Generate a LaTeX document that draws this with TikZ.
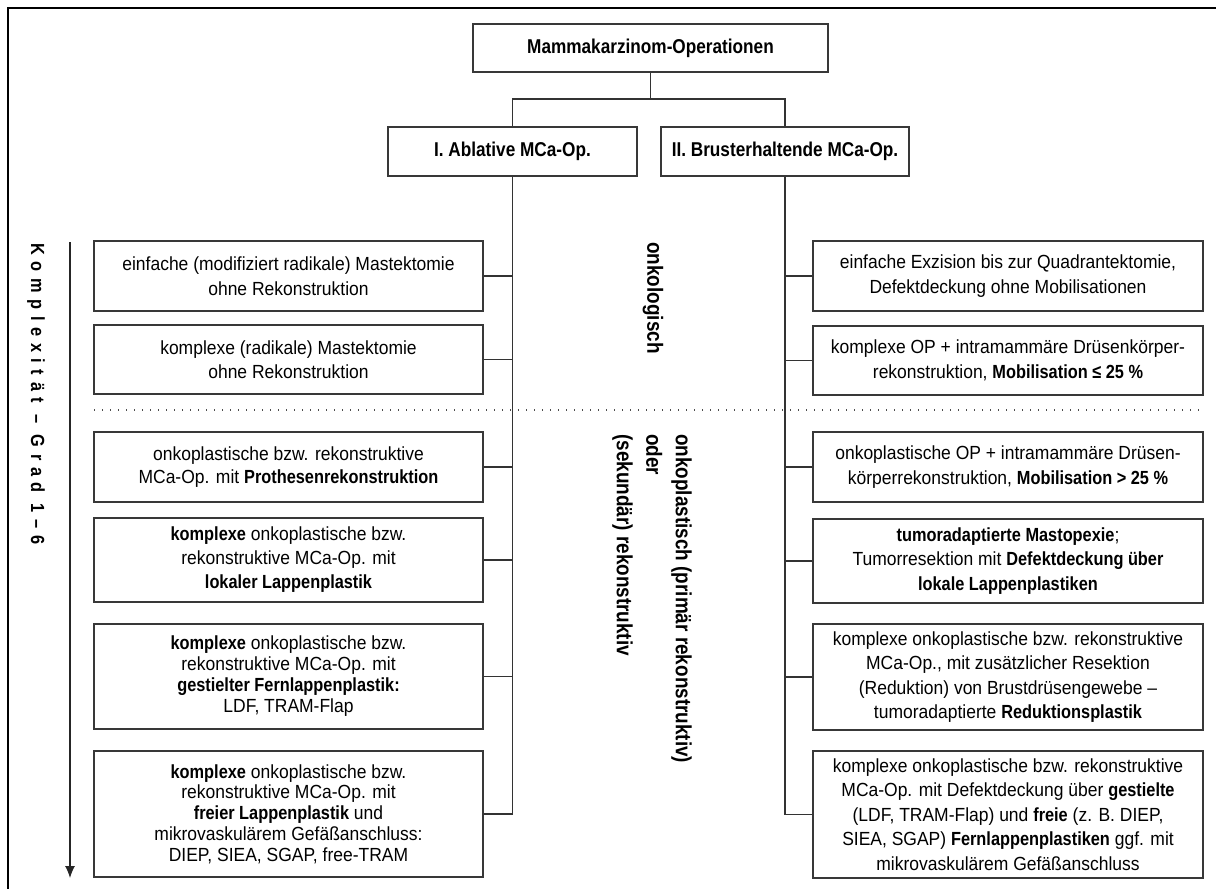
\documentclass[tikz,border=0pt]{standalone}
\usepackage{fontspec}
\setmainfont{Liberation Sans}[FakeStretch=0.92]
\newfontfamily\bnf{Liberation Sans}[FakeStretch=0.86]
\newfontfamily\lsf{Liberation Sans}[FakeStretch=0.86,LetterSpace=35]
\newcommand\bt[1]{{\bnf\bfseries #1}}
\usetikzlibrary{arrows.meta}
\begin{document}
\begin{tikzpicture}[x=1pt,y=-1pt,
  box/.style={draw=black!78, line width=1.3pt, align=center, inner sep=0pt,
    font=\fontsize{19}{24.5}\selectfont},
  lbox/.style={box, minimum width=389pt},
  rbox/.style={box, minimum width=390pt},
  hd/.style={draw=black!78, line width=1.3pt, align=center, inner sep=0pt,
    font=\bnf\bfseries\fontsize{20}{24}\selectfont},
  conn/.style={draw=black!80, line width=1.1pt},
  vlab/.style={rotate=-90, anchor=west, inner sep=0pt, align=left,
    font=\bnf\bfseries\fontsize{22}{29.5}\selectfont}
]
\useasboundingbox (0,0) rectangle (1216,889);
% frame
\coordinate (f0) at (1216,8);
\coordinate (f1) at (8,8);
\coordinate (f2) at (8,889);
\draw[line width=2pt] (f0) -- (f1) -- (f2);

% headers
\node[hd, minimum width=355pt, minimum height=48pt] (top) at (650.5,48) {Mammakarzinom-Operationen};
\node[hd, minimum width=249pt, minimum height=49pt] (I) at (512.5,151.5) {I. Ablative MCa-Op.};
\node[hd, minimum width=248pt, minimum height=49pt] (II) at (785,151.5) {II. Brusterhaltende MCa-Op.};
\coordinate (bar) at (650.5,99);
\draw[conn] (top.south) -- (bar);
\draw[conn] (I.north) |- (bar) -| (II.north);

% left boxes
\node[lbox, minimum height=70pt] (L1) at (288.5,276) {einfache (modifiziert radikale) Mastektomie\\ohne Rekonstruktion};
\node[lbox, minimum height=69pt] (L2) at (288.5,359.5) {komplexe (radikale) Mastektomie\\ohne Rekonstruktion};
\node[lbox, minimum height=70pt, font=\fontsize{19}{23}\selectfont] (L3) at (288.5,467) {onkoplastische bzw. rekonstruktive\\MCa-Op. mit \bt{Prothesenrekonstruktion}};
\node[lbox, minimum height=84pt, font=\fontsize{19}{24}\selectfont] (L4) at (288.5,560) {\bt{komplexe} onkoplastische bzw.\\rekonstruktive MCa-Op. mit\\\bt{lokaler Lappenplastik}};
\node[lbox, minimum height=105pt, font=\fontsize{19}{21}\selectfont] (L5) at (288.5,676.5) {\bt{komplexe} onkoplastische bzw.\\rekonstruktive MCa-Op. mit\\\bt{gestielter Fernlappenplastik:}\\LDF, TRAM-Flap};
\node[lbox, minimum height=126pt, font=\fontsize{19}{20.7}\selectfont] (L6) at (288.5,814) {\bt{komplexe} onkoplastische bzw.\\rekonstruktive MCa-Op. mit\\\bt{freier Lappenplastik} und\\mikrovaskulärem Gefäßanschluss:\\DIEP, SIEA, SGAP, free-TRAM};

% right boxes
\node[rbox, minimum height=70pt] (R1) at (1008,276) {einfache Exzision bis zur Quadrantektomie,\\Defektdeckung ohne Mobilisationen};
\node[rbox, minimum height=69pt] (R2) at (1008,360.5) {komplexe OP + intramammäre Drüsenkörper-\\rekonstruktion, \bt{Mobilisation ≤ 25 \%}};
\node[rbox, minimum height=70pt] (R3) at (1008,467) {onkoplastische OP + intramammäre Drüsen-\\körperrekonstruktion, \bt{Mobilisation > 25 \%}};
\node[rbox, minimum height=84pt] (R4) at (1008,561) {\bt{tumoradaptierte Mastopexie};\\Tumorresektion mit \bt{Defektdeckung über}\\\bt{lokale Lappenplastiken}};
\node[rbox, minimum height=106pt] (R5) at (1008,677) {komplexe onkoplastische bzw. rekonstruktive\\MCa-Op., mit zusätzlicher Resektion\\(Reduktion) von Brustdrüsengewebe –\\tumoradaptierte \bt{Reduktionsplastik}};
\node[rbox, minimum height=127pt] (R6) at (1008,814.5) {komplexe onkoplastische bzw. rekonstruktive\\MCa-Op. mit Defektdeckung über \bt{gestielte}\\(LDF, TRAM-Flap) und \bt{freie} (z. B. DIEP,\\SIEA, SGAP) \bt{Fernlappenplastiken} ggf. mit\\mikrovaskulärem Gefäßanschluss};

% trunks and branches
\draw[conn] (I.south) -- (I.south |- L6.east);
\draw[conn] (II.south) -- (II.south |- R6.west);
\foreach \n in {L1,L2,L3,L4,L5,L6}{\draw[conn] (\n.east) -- (\n.east -| I.south);}
\foreach \n in {R1,R2,R3,R4,R5,R6}{\draw[conn] (\n.west) -- (\n.west -| II.south);}

% dotted separator
\coordinate (d0) at (94,410);
\coordinate (d1) at (1203,410);
\draw[black!70, line width=1.2pt, dash pattern=on 1.3pt off 6.7pt] (d0) -- (d1);

% complexity arrow
\coordinate (a0) at (70,242);
\coordinate (a1) at (70,878);
\draw[black!85, line width=1.1pt, -{Latex[length=12pt,width=10pt]}] (a0) -- (a1);
\node[vlab, font=\lsf\bfseries\fontsize{19}{24}\selectfont] (kg) at (36,243) {Komplexität – Grad 1–6};

% middle labels
\node[vlab] (onk) at (653,242) {onkologisch};
\node[vlab] (rek) at (652,434) {onkoplastisch (primär rekonstruktiv)\\oder\\(sekundär) rekonstruktiv};
\end{tikzpicture}
\end{document}
